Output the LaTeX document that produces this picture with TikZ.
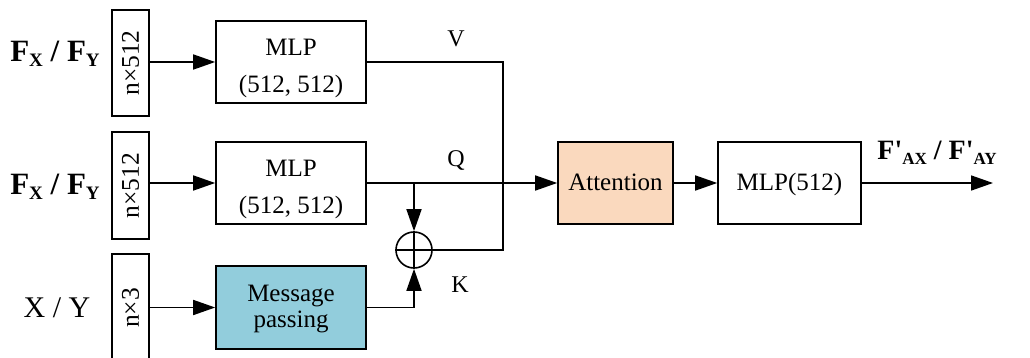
\documentclass[tikz,border=0pt]{standalone}
\usepackage{fontspec}
\setmainfont{Liberation Serif}
\usetikzlibrary{arrows.meta}
\definecolor{attn}{HTML}{FAD9BE}
\definecolor{mpass}{HTML}{92CDDC}
\newcommand\subtxt[2]{\raisebox{-0.16em}{\fontsize{#1}{#1}\selectfont #2}}
\begin{document}
\begin{tikzpicture}[x=1pt,y=-1pt,
  box/.style={draw, line width=1.6pt, inner sep=0pt, font=\fontsize{25}{27}\selectfont, align=center},
  dimbox/.style={box, minimum width=37pt, font=\fontsize{25.5}{27}\selectfont},
  arr/.style={-{Triangle[length=22pt,width=15pt]}, line width=1.6pt},
  ln/.style={line width=1.6pt},
  lbl/.style={font=\fontsize{24}{26}\selectfont, anchor=base},
  txt/.style={font=\fontsize{25}{27}\selectfont, anchor=base, inner sep=0pt}
]
\useasboundingbox (0,0) rectangle (1030,358);
\clip (0,0) rectangle (1030,358);

% dimension boxes
\node[dimbox, minimum height=106pt] (d1) at (130.5,63) {\rotatebox{90}{n×512}};
\node[dimbox, minimum height=107pt] (d2) at (130.5,185.5) {\rotatebox{90}{n×512}};
\node[dimbox, minimum height=108pt] (d3) at (130.5,308) {\rotatebox{90}{n×3}};

% processing boxes
\node[box, minimum width=150pt, minimum height=82pt] (m1) at (291,62) {};
\node[txt] (m1a) at (291,56) {MLP};
\node[txt] (m1b) at (291,93) {(512, 512)};
\node[box, minimum width=150pt, minimum height=82pt] (m2) at (291,183) {};
\node[txt] (m2a) at (291,177) {MLP};
\node[txt] (m2b) at (291,214) {(512, 512)};
\node[box, fill=mpass, minimum width=150pt, minimum height=83pt] (mp) at (291,307.5) {};
\node[txt] (mpa) at (291,301.5) {Message};
\node[txt] (mpb) at (291,327.5) {passing};
\node[circle, draw, line width=1.6pt, minimum size=36pt, inner sep=0pt] (plus) at (414,250) {};
\node[box, fill=attn, minimum width=115pt, minimum height=82pt] (att) at (615.5,183) {};
\node[txt] (atta) at (615.5,191) {Attention};
\node[box, minimum width=143pt, minimum height=82pt] (m3) at (789.5,183) {};
\node[txt] (m3a) at (789.5,191) {MLP(512)};

\coordinate (vx) at (503,0);
\coordinate (out) at (993,183);

% input labels
\node[font=\bfseries\fontsize{31}{31}\selectfont, anchor=base] (fx1) at (55,62) {F\subtxt{19}{X} / F\subtxt{19}{Y}};
\node[font=\bfseries\fontsize{31}{31}\selectfont, anchor=base] (fx2) at (55,195) {F\subtxt{19}{X} / F\subtxt{19}{Y}};
\node[font=\fontsize{30}{30}\selectfont, anchor=base] (xy) at (57,317) {X / Y};

% V, Q, K labels
\node[lbl] (lv) at (456,47) {V};
\node[lbl] (lq) at (456,167) {Q};
\node[lbl] (lk) at (460,292) {K};
\node[font=\bfseries\fontsize{28}{28}\selectfont, anchor=base] (fo) at (937,160) {F\textquotesingle\subtxt{17}{AX} / F\textquotesingle\subtxt{17}{AY}};

% connectors
\draw[arr] (d1.east |- m1.west) -- (m1.west);
\draw[arr] (d2.east |- m2.west) -- (m2.west);
\draw[arr] (d3.east |- mp.west) -- (mp.west);
\draw[ln] (m1.east) -| (vx |- plus) -- (plus.east);
\draw[arr] (m2.east) -- (att.west);
\draw[arr] (m2.east -| plus) -- (plus.north);
\draw[arr] (mp.east) -| (plus.south);
\draw[ln] (plus.north) -- (plus.south) (plus.west) -- (plus.east);
\draw[arr] (att.east) -- (m3.west);
\draw[arr] (m3.east) -- (out);
\end{tikzpicture}
\end{document}
